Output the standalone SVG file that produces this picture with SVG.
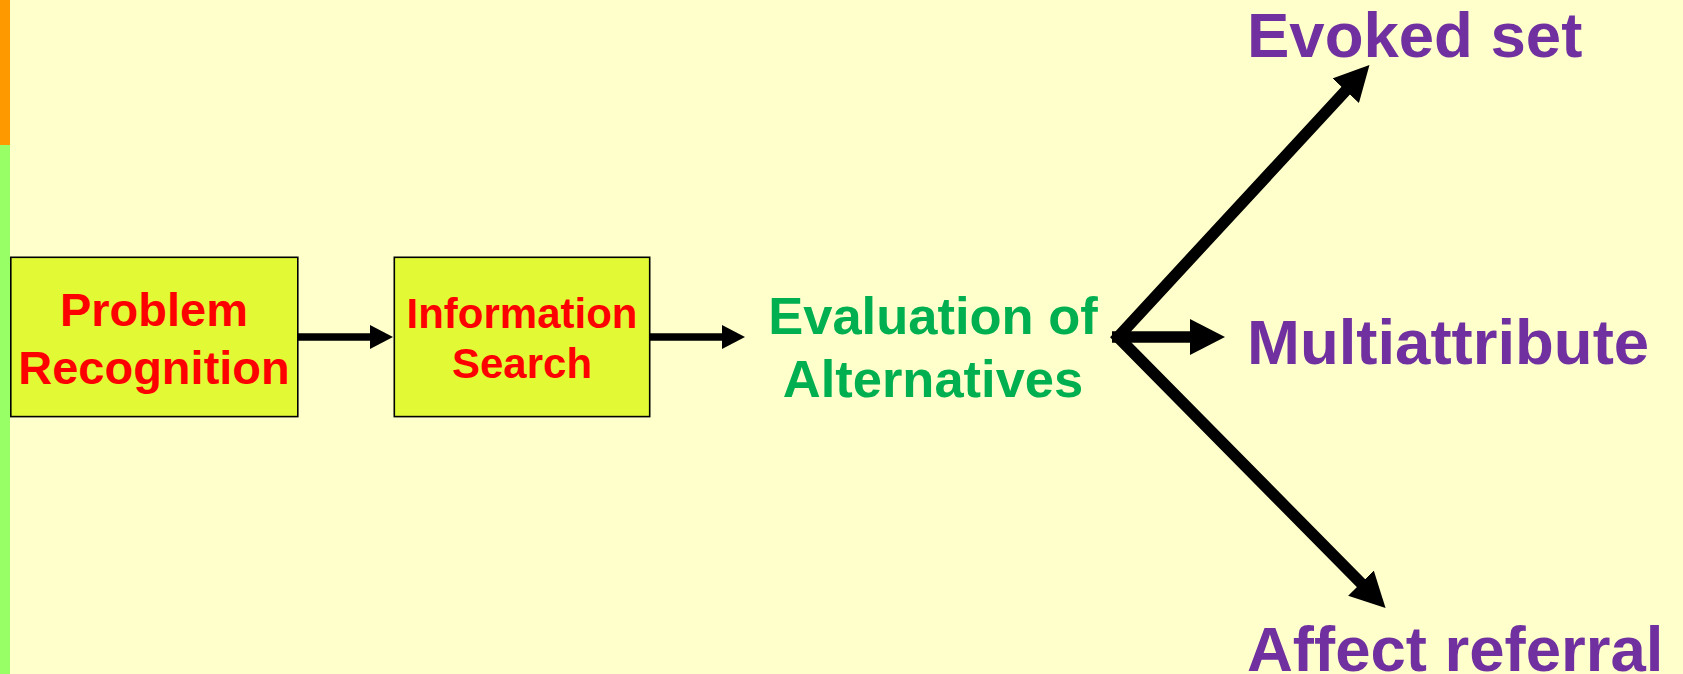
<svg xmlns="http://www.w3.org/2000/svg" width="1683" height="674" viewBox="0 0 1683 674">
  <style>
    .box { fill: #E2FA36; stroke: #000; stroke-width: 1.6; }
    .step { font-family: "Liberation Sans", Arial, sans-serif; font-weight: bold; fill: #FF0000; text-anchor: middle; }
    .eval { font-family: "Liberation Sans", Arial, sans-serif; font-weight: bold; fill: #00B050; text-anchor: middle; font-size: 52.5px; }
    .rule { font-family: "Liberation Sans", Arial, sans-serif; font-weight: bold; fill: #7030A0; font-size: 63.5px; }
    .thin { stroke: #000; stroke-width: 7.4; fill: none; marker-end: url(#headSmall); }
    .thick { stroke: #000; stroke-width: 11.5; fill: none; stroke-linejoin: miter; }
  </style>
  <defs>
    <marker id="headSmall" markerUnits="userSpaceOnUse" markerWidth="23" markerHeight="24" refX="13" refY="12" orient="auto">
      <path d="M0,0 L23,12 L0,24 Z" fill="#000"/>
    </marker>
    <marker id="headBig" markerUnits="userSpaceOnUse" markerWidth="35" markerHeight="36" refX="15" refY="18" orient="auto-start-reverse">
      <path d="M0,0 L35,18 L0,36 Z" fill="#000"/>
    </marker>
  </defs>

  <!-- page background and side band -->
  <rect x="0" y="0" width="1683" height="674" fill="#FFFFCC"/>
  <rect x="0" y="0" width="10" height="145" fill="#FF9900"/>
  <rect x="0" y="145" width="10" height="529" fill="#99FF66"/>

  <g id="problem-recognition">
    <rect class="box" x="10.8" y="257.3" width="287" height="159.3"/>
    <text class="step" font-size="47" x="154" y="325.5">Problem</text>
    <text class="step" font-size="47" x="154" y="384">Recognition</text>
  </g>

  <g id="information-search">
    <rect class="box" x="394.3" y="257.3" width="255.4" height="159.3"/>
    <text class="step" font-size="42" x="522" y="328.3">Information</text>
    <text class="step" font-size="42" x="522" y="378.3">Search</text>
  </g>

  <g id="evaluation">
    <text class="eval" x="933" y="334">Evaluation of</text>
    <text class="eval" x="933" y="396.7">Alternatives</text>
  </g>

  <g id="evoked-set">
    <text class="rule" x="1247" y="56.7">Evoked set</text>
  </g>
  <g id="multiattribute">
    <text class="rule" x="1247" y="364">Multiattribute</text>
  </g>
  <g id="affect-referral">
    <text class="rule" x="1247" y="671">Affect referral</text>
  </g>

  <g id="connectors">
    <line class="thin" x1="298" y1="337" x2="383" y2="337"/>
    <line class="thin" x1="650" y1="337" x2="735" y2="337"/>
    <line class="thick" x1="1112" y1="337" x2="1205" y2="337" marker-end="url(#headBig)"/>
    <path class="thick" d="M1355.9,79.7 L1118,337 L1371.5,593.8" marker-start="url(#headBig)" marker-end="url(#headBig)"/>
  </g>
</svg>
